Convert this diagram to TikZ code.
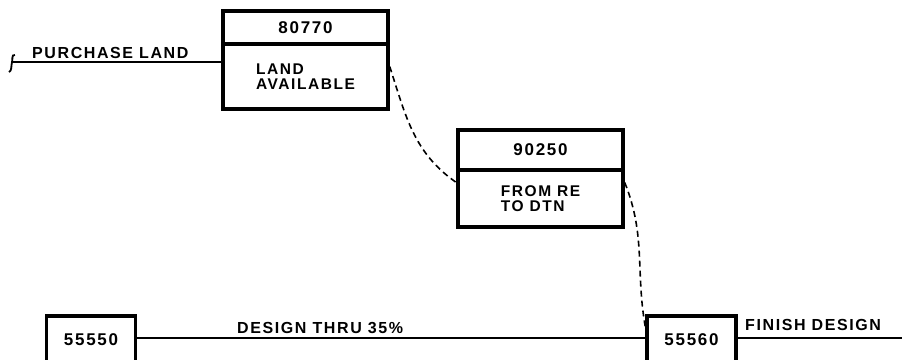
\documentclass[tikz,border=0pt]{standalone}
\usepackage{fontspec}
\setmainfont{Liberation Sans}
\newfontfamily\letfont[LetterSpace=10]{Liberation Sans Bold}
\usetikzlibrary{calc}
\tikzset{
  boxline/.style={draw, line width=3.4pt, inner sep=0pt},
  hdr/.style={boxline, minimum width=165pt, font=\letfont\fontsize{17}{17}\selectfont},
  body/.style={boxline, minimum width=165pt, align=left, font=\letfont\fontsize{15.5}{15.5}\selectfont},
  ev/.style={boxline, minimum width=89pt, minimum height=48pt, font=\letfont\fontsize{17}{17}\selectfont},
  lbl/.style={anchor=base west, inner sep=0pt, font=\letfont\fontsize{16}{16}\selectfont},
  link/.style={line width=2.6pt},
  dep/.style={line width=1.6pt, dash pattern=on 6pt off 4pt},
}
\begin{document}
\begin{tikzpicture}[x=1pt,y=-1pt]
\useasboundingbox (0,0) rectangle (902,359);
\clip (0,0) rectangle (902,359);
% event boxes
\node[hdr, minimum height=33pt] (h1) at (305.5,27.5) {80770};
\node[body, minimum height=65pt] (t1) at (305.5,76.5) {LAND\\AVAILABLE};
\node[hdr, minimum height=40pt] (h2) at (540.5,150) {90250};
\node[body, minimum height=57pt] (t2) at (540.5,198.5) {FROM RE\\TO DTN};
\node[ev] (b1) at (91,340) {55550};
\node[ev] (b2) at (691.5,340) {55560};
% free ends
\coordinate (pl) at (12,62);
\coordinate (fe) at (902,338);
% purchase land
\draw[link] (pl) -- (pl -| t1.west);
\draw[line width=1.8pt] ([shift={(3,-7)}]pl) .. controls ([shift={(-1,-8)}]pl) and ([shift={(1,-1)}]pl) .. (pl)
  .. controls ([shift={(-1,4)}]pl) and ([shift={(0,9)}]pl) .. ([shift={(-3,10)}]pl);
\node[lbl] at (32,58) {PURCHASE LAND};
% design lines
\draw[link] ([yshift=2pt]b1.east) -- ([yshift=2pt]b2.west);
\draw[link] ([yshift=2pt]b2.east) -- (fe);
\node[lbl] at (237,333) {DESIGN THRU 35\%};
\node[lbl] at (745,330) {FINISH DESIGN};
% dependencies
\draw[dep] ([yshift=10pt]t1.east) to[out=-72, in=145] ([yshift=16pt]t2.west);
\draw[dep] ([yshift=16pt]t2.east) to[out=-68, in=100] ([yshift=13pt]b2.west);
\end{tikzpicture}
\end{document}
